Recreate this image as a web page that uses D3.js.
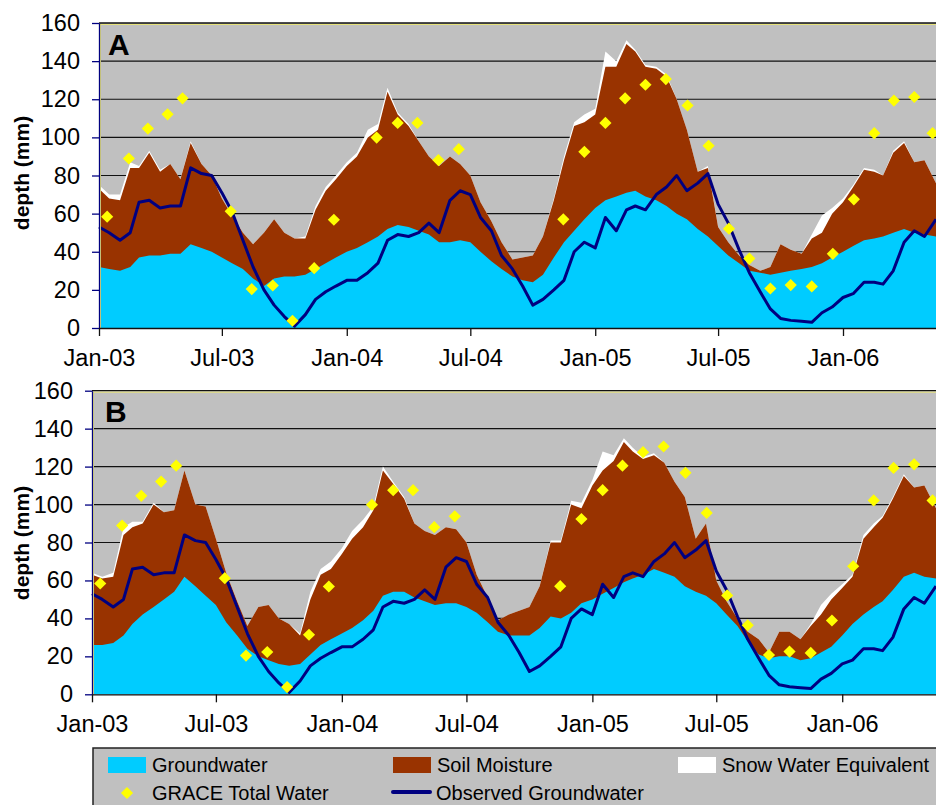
<!DOCTYPE html>
<html>
<head>
<meta charset="utf-8">
<script src="https://cdn.jsdelivr.net/npm/d3@7"></script>
<style>
  body { margin: 0; background: #fff; }
  text { font-family: "Liberation Sans", Arial, sans-serif; }
</style>
</head>
<body>
<div id="chart"></div>
<script>
// semi-monthly sample dates
var dates = [
  "2003-01-01","2003-01-16","2003-02-01","2003-02-16","2003-03-01","2003-03-16","2003-04-01","2003-04-16","2003-05-01","2003-05-16","2003-06-01","2003-06-16",
  "2003-07-01","2003-07-16","2003-08-01","2003-08-16","2003-09-01","2003-09-16","2003-10-01","2003-10-16","2003-11-01","2003-11-16","2003-12-01","2003-12-16",
  "2004-01-01","2004-01-16","2004-02-01","2004-02-16","2004-03-01","2004-03-16","2004-04-01","2004-04-16","2004-05-01","2004-05-16","2004-06-01","2004-06-16",
  "2004-07-01","2004-07-16","2004-08-01","2004-08-16","2004-09-01","2004-09-16","2004-10-01","2004-10-16","2004-11-01","2004-11-16","2004-12-01","2004-12-16",
  "2005-01-01","2005-01-16","2005-02-01","2005-02-16","2005-03-01","2005-03-16","2005-04-01","2005-04-16","2005-05-01","2005-05-16","2005-06-01","2005-06-16",
  "2005-07-01","2005-07-16","2005-08-01","2005-08-16","2005-09-01","2005-09-16","2005-10-01","2005-10-16","2005-11-01","2005-11-16","2005-12-01","2005-12-16",
  "2006-01-01","2006-01-16","2006-02-01","2006-02-16","2006-03-01","2006-03-16","2006-04-01","2006-04-16","2006-05-01","2006-05-18"
];

// panel A (mm)
var gwA = [
  32,31,30,32,37,38,38,39,39,44,42,40,
  37,34,31,26,22,26,27,27,28,31,34,37,
  40,42,45,48,52,54,53,51,49,45,45,46,
  45,40,35,31,27,25,24,28,37,45,51,57,
  63,67,69,71,72,69,67,64,60,57,52,48,
  43,38,34,30,29,28,29,30,31,32,34,37,
  40,43,46,47,48,50,52,50,49,48
];
var smA = [
  41,37,37,52,47,54,44,47,39,53,44,40,
  31,25,19,18,28,31,23,20,19,31,38,41,
  45,48,55,56,72,58,53,47,41,40,45,40,
  35,26,21,14,9,12,14,20,30,43,55,51,
  49,70,68,78,73,68,69,68,60,47,30,36,
  10,7,4,3,1,4,15,11,8,15,16,23,
  26,31,37,35,32,42,45,37,39,28
];
var sweA = [
  2,2,3,3,1,1,1,0,0,1,0,0,
  0,0,0,0,0,0,0,0,1,2,2,2,
  2,2,4,3,2,1,1,0,0,0,0,0,
  0,0,0,0,0,0,0,0,1,2,2,4,
  3,8,3,2,1,1,1,1,0,0,0,1,
  0,0,0,0,0,0,0,0,0,2,9,3,
  2,1,1,1,0,1,1,0,0,0
];

// panel B (mm)
var gwB = [
  26,26,27,31,37,42,46,50,54,62,57,52,
  47,38,31,24,20,18,16,15,16,21,26,29,
  32,35,39,44,52,54,54,51,49,47,48,48,
  46,43,38,33,31,31,31,35,41,40,43,48,
  50,53,56,59,61,63,66,64,62,57,54,52,
  48,42,36,28,21,19,20,20,18,19,22,25,
  31,37,42,46,49,55,62,64,62,61
];
var smB = [
  37,35,35,53,51,48,54,46,43,56,43,47,
  35,26,18,12,26,29,24,22,15,29,37,37,
  42,47,49,53,66,57,49,39,37,37,40,39,
  34,20,13,6,11,13,15,22,39,40,57,50,
  60,65,67,74,67,61,60,58,50,47,28,38,
  12,7,4,5,8,3,13,13,11,17,20,25,
  25,25,40,42,44,48,53,45,48,37
];
var sweB = [
  1,1,2,4,3,1,1,0,0,0,0,0,
  0,0,0,0,0,0,0,0,1,4,3,4,
  3,4,4,2,2,1,1,0,0,0,0,0,
  0,0,0,0,0,0,0,0,1,1,2,3,
  3,10,3,2,2,1,1,0,0,0,0,0,
  0,0,0,0,0,0,0,0,0,1,5,3,
  2,1,2,2,1,1,1,0,0,0
];

// observed groundwater (same in both panels)
var observed = [
  53,50,46,50,66,67,63,64,64,84,81,80,
  71,61,46,32,20,12,6,1,7,15,19,22,
  25,25,29,34,46,49,48,50,55,50,67,72,
  70,58,51,38,31,22,12,15,20,25,40,45,
  42,58,51,62,64,62,70,74,80,72,76,81,
  65,55,41,29,19,10,5,4,3.5,3,8,11,
  16,18,24,24,23,30,45,51,48,57
];

// GRACE monthly total water
var graceDates = [
  "2003-01-13","2003-02-14","2003-03-14","2003-04-12","2003-05-04","2003-07-14","2003-08-14","2003-09-14",
  "2003-10-13","2003-11-14","2003-12-13","2004-02-14","2004-03-16","2004-04-14","2004-05-15","2004-06-14",
  "2004-11-15","2004-12-16","2005-01-16","2005-02-14","2005-03-16","2005-04-15","2005-05-17","2005-06-17",
  "2005-07-17","2005-08-16","2005-09-16","2005-10-16","2005-11-16","2005-12-17","2006-01-17","2006-02-16",
  "2006-03-17","2006-04-16","2006-05-13"
];
var graceTotal = [
  58.4,88.9,104.6,112.1,120.5,61.2,20.4,22.3,
  3.8,31.4,56.8,99.9,107.6,107.6,88.1,93.8,
  57.0,92.4,107.6,120.5,127.6,130.6,116.7,95.6,
  52.1,36.4,20.7,22.5,21.8,38.9,67.5,102.2,
  119.3,121.2,102.2
];

var yTicks = [0, 20, 40, 60, 80, 100, 120, 140, 160];
var xTicks = ["2003-01-01","2003-07-01","2004-01-01","2004-07-01","2005-01-01","2005-07-01","2006-01-01"];
var layerNames = ["Groundwater", "Soil Moisture", "Snow Water Equivalent"];

var colors = ["#00ccff", "#993300", "#ffffff"];
var navy = "#000080";
var yellow = "#ffff00";

var parseDate = d3.timeParse("%Y-%m-%d");
var svgWidth = 936;
var svgHeight = 805;

var svg = d3.select("#chart")
    .append("svg")
    .attr("width", svgWidth)
    .attr("height", svgHeight);

var panels = [
  {name: "A", left: 99, top: 23, bottom: 328, gw: gwA, sm: smA, swe: sweA, labelX: 108, labelY: 55, titleY: 173},
  {name: "B", left: 92, top: 390.7, bottom: 694.3, gw: gwB, sm: smB, swe: sweB, labelX: 105, labelY: 422, titleY: 543}
];
var plotRight = 936;
var domainX = [parseDate("2003-01-01"), parseDate("2006-05-18")];

var diamond = d3.symbol().type(d3.symbolSquare).size(74);

panels.forEach(function(p) {
    var x = d3.scaleTime().domain(domainX).range([p.left, plotRight]);
    var y = d3.scaleLinear().domain([0, 160]).range([p.bottom, p.top]);

    var g = svg.append("g");

    g.append("rect")
        .attr("x", p.left)
        .attr("y", p.top)
        .attr("width", plotRight - p.left)
        .attr("height", p.bottom - p.top)
        .attr("fill", "#c0c0c0");

    g.selectAll("line.grid")
        .data(yTicks.slice(1, -1))
        .enter()
        .append("line")
        .attr("x1", p.left)
        .attr("x2", plotRight)
        .attr("y1", d => y(d))
        .attr("y2", d => y(d))
        .attr("stroke", "#111")
        .attr("stroke-width", 1.2);

    var rows = dates.map(function(d, i) {
        return {date: parseDate(d), gw: p.gw[i], sm: p.sm[i], swe: p.swe[i]};
    });
    var layers = d3.stack().keys(["gw", "sm", "swe"])(rows);

    // each layer filled from zero, top layer first, so no seams between bands
    var area = d3.area()
        .x(d => x(d.data.date))
        .y0(y(0))
        .y1(d => y(d[1]));

    g.selectAll("path.layer")
        .data(layers.slice().reverse())
        .enter()
        .append("path")
        .attr("class", "layer")
        .attr("fill", d => colors[d.index])
        .attr("d", area);

    var line = d3.line()
        .x((d, i) => x(parseDate(dates[i])))
        .y(d => y(d));

    g.append("path")
        .datum(observed)
        .attr("fill", "none")
        .attr("stroke", navy)
        .attr("stroke-width", 3)
        .attr("stroke-linejoin", "round")
        .attr("d", line);

    g.selectAll("path.grace")
        .data(graceTotal)
        .enter()
        .append("path")
        .attr("class", "grace")
        .attr("transform", (d, i) => `translate(${x(parseDate(graceDates[i]))},${y(d)}) rotate(45)`)
        .attr("d", diamond)
        .attr("fill", yellow);

    // plot frame bits
    g.append("line")
        .attr("x1", p.left).attr("x2", plotRight)
        .attr("y1", p.top).attr("y2", p.top)
        .attr("stroke", "#111").attr("stroke-width", 1.3);
    g.append("line")
        .attr("x1", p.left + 1).attr("x2", plotRight)
        .attr("y1", p.top + 1.5).attr("y2", p.top + 1.5)
        .attr("stroke", "#e6e27a").attr("stroke-width", 1);
    g.append("line")
        .attr("x1", p.left + 1.5).attr("x2", p.left + 1.5)
        .attr("y1", p.top + 1).attr("y2", p.bottom)
        .attr("stroke", "#e6e27a").attr("stroke-width", 1);

    var leftAxis = d3.axisLeft(y)
        .tickValues(yTicks)
        .tickSize(7)
        .tickSizeOuter(0)
        .tickPadding(12);

    var yAxisG = g.append("g")
        .attr("transform", `translate(${p.left},0)`)
        .call(leftAxis);
    yAxisG.select(".domain").attr("stroke", navy).attr("stroke-width", 1.3);
    yAxisG.selectAll(".tick line").attr("stroke", navy).attr("stroke-width", 1.3);
    yAxisG.selectAll("text")
        .attr("font-size", 23.5)
        .attr("fill", "#000")
        .style("font-family", '"Liberation Sans", Arial, sans-serif');

    var bottomAxis = d3.axisBottom(x)
        .tickValues(xTicks.map(parseDate))
        .tickFormat(d3.timeFormat("%b-%y"))
        .tickSize(8)
        .tickSizeOuter(0)
        .tickPadding(13);

    var xAxisG = g.append("g")
        .attr("transform", `translate(0,${p.bottom})`)
        .call(bottomAxis);
    xAxisG.select(".domain").attr("stroke", "#111").attr("stroke-width", 1.3);
    xAxisG.selectAll(".tick line").attr("stroke", "#111").attr("stroke-width", 1.3);
    xAxisG.selectAll("text")
        .attr("font-size", 23.5)
        .attr("fill", "#000")
        .style("font-family", '"Liberation Sans", Arial, sans-serif');

    g.append("text")
        .attr("x", p.labelX)
        .attr("y", p.labelY)
        .attr("font-size", 30)
        .attr("font-weight", "bold")
        .text(p.name);

    g.append("text")
        .attr("transform", `translate(29,${p.titleY}) rotate(-90)`)
        .attr("text-anchor", "middle")
        .attr("font-size", 21)
        .attr("font-weight", "bold")
        .text("depth (mm)");
});

// legend
var legend = svg.append("g");
legend.append("rect")
    .attr("x", 93)
    .attr("y", 748)
    .attr("width", 900)
    .attr("height", 80)
    .attr("fill", "#c0c0c0")
    .attr("stroke", "#222")
    .attr("stroke-width", 1.5);

var swatchX = [108, 393, 678];
layerNames.forEach(function(name, i) {
    legend.append("rect")
        .attr("x", swatchX[i])
        .attr("y", 757)
        .attr("width", 38)
        .attr("height", 16)
        .attr("fill", colors[i]);
    legend.append("text")
        .attr("x", swatchX[i] + 44)
        .attr("y", 771.5)
        .attr("font-size", 20)
        .text(name);
});

legend.append("path")
    .attr("transform", "translate(127,793) rotate(45)")
    .attr("d", diamond)
    .attr("fill", yellow);
legend.append("text")
    .attr("x", 152)
    .attr("y", 800)
    .attr("font-size", 20)
    .text("GRACE Total Water");

legend.append("line")
    .attr("x1", 393).attr("x2", 430)
    .attr("y1", 792).attr("y2", 792)
    .attr("stroke", navy)
    .attr("stroke-width", 4)
    .attr("stroke-linecap", "round");
legend.append("text")
    .attr("x", 436)
    .attr("y", 800)
    .attr("font-size", 20)
    .text("Observed Groundwater");
</script>
</body>
</html>
